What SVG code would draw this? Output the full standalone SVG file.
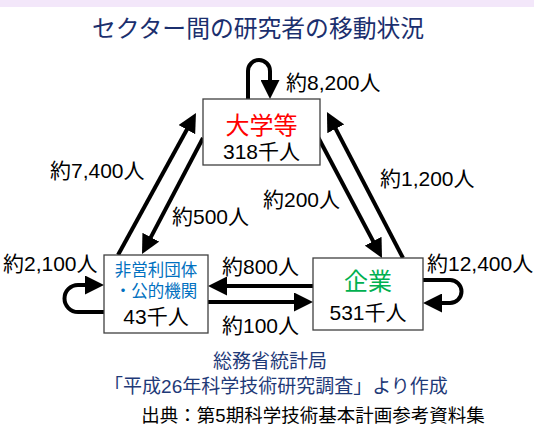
<svg xmlns="http://www.w3.org/2000/svg" width="534" height="434" viewBox="0 0 534 434">
<style>
text{font-family:"Liberation Sans","Noto Sans CJK JP",sans-serif;}
.lbl{font-size:21px;fill:#000;}
.box{fill:#fff;stroke:#404040;stroke-width:1.3;}
.c{fill:none;stroke:#000;stroke-width:4;marker-end:url(#ah);}
.num{font-size:21px;fill:#000;text-anchor:middle;}
.nv{fill:#1F3A78;}
</style>
<defs>
<marker id="ah" markerUnits="userSpaceOnUse" markerWidth="19" markerHeight="19" refX="7" refY="9.5" orient="auto">
<path d="M0 0 L19 9.5 L0 19 z" fill="#000"/>
</marker>
</defs>
<rect x="0" y="0" width="534" height="7" fill="#F3E7FA"/>
<text x="258" y="37" font-size="23.8" text-anchor="middle" fill="#1B2F6E">セクター間の研究者の移動状況</text>

<g id="connectors">
<path class="c" d="M248 99 V71 A11 11 0 0 1 270 71 V87"/>
<path class="c" d="M104 312 H78 A13.5 13.5 0 0 1 78 285 H92"/>
<path class="c" d="M423 280 H450 A11.5 11.5 0 0 1 450 303 H435"/>
<path class="c" d="M313 286 H220"/>
<path class="c" d="M208 302 H301"/>
<path class="c" d="M118 255 L190.2 123.5"/>
<path class="c" d="M203 138 L147.6 243.4"/>
<path class="c" d="M318 137 L376.4 247.4"/>
<path class="c" d="M403 258 L332.5 122.6"/>
</g>

<g id="labels">
<text class="lbl" x="286" y="90">約8,200人</text>
<text class="lbl" x="50" y="178">約7,400人</text>
<text class="lbl" x="172" y="224">約500人</text>
<text class="lbl" x="263" y="207">約200人</text>
<text class="lbl" x="380" y="186">約1,200人</text>
<text class="lbl" x="3" y="271">約2,100人</text>
<text class="lbl" x="427" y="271">約12,400人</text>
<text class="lbl" x="222" y="274">約800人</text>
<text class="lbl" x="222" y="333">約100人</text>
</g>

<g id="node-univ">
<rect class="box" x="203" y="99" width="117" height="66"/>
<text x="261.5" y="134" font-size="24" text-anchor="middle" fill="#FF0000">大学等</text>
<text class="num" x="261.5" y="159">318千人</text>
</g>

<g id="node-npo">
<rect class="box" x="104" y="255" width="104" height="78"/>
<text x="156" y="276" font-size="16.5" text-anchor="middle" fill="#0070C0">非営利団体</text>
<text x="156" y="297" font-size="16.5" text-anchor="middle" fill="#0070C0">・公的機関</text>
<text class="num" x="156" y="324" font-size="22">43千人</text>
</g>

<g id="node-corp">
<rect class="box" x="313" y="258" width="110" height="72"/>
<text x="368" y="290" font-size="24" text-anchor="middle" fill="#00B050">企業</text>
<text class="num" x="368" y="320">531千人</text>
</g>

<text class="nv" x="270" y="368" font-size="19" text-anchor="middle">総務省統計局</text>
<text class="nv" x="276" y="393" font-size="19" text-anchor="middle">「平成26年科学技術研究調査」より作成</text>
<text x="313" y="422" font-size="18.5" text-anchor="middle" fill="#000">出典：第5期科学技術基本計画参考資料集</text>
</svg>
